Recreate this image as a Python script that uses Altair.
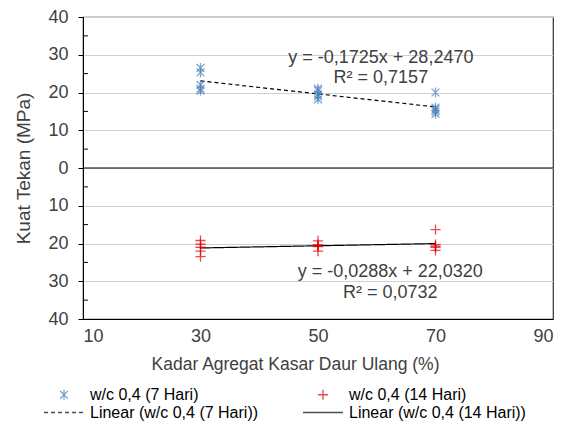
import altair as alt
import pandas as pd

# ---- data ----
S7 = "w/c 0,4 (7 Hari)"
S14 = "w/c 0,4 (14 Hari)"
L7 = "Linear (w/c 0,4 (7 Hari))"
L14 = "Linear (w/c 0,4 (14 Hari))"

kadar_7 = [30, 30, 30, 30, 30, 50, 50, 50, 50, 50, 70, 70, 70, 70, 70]
kuat_7 = [26.5, 25.3, 22.0, 21.0, 20.5, 21.0, 20.5, 19.5, 19.0, 18.2, 20.0, 16.0, 15.5, 15.0, 14.35]
kadar_14 = [30, 30, 30, 30, 30, 50, 50, 50, 50, 50, 70, 70, 70, 70, 70]
kuat_14 = [19.2, 20.2, 21.0, 22.0, 23.5, 19.3, 20.3, 20.6, 20.8, 22.0, 16.3, 20.3, 20.7, 21.0, 21.8]

y_ticks = [-40, -30, -20, -10, 0, 10, 20, 30, 40]
y_minor = [-35, -25, -15, -5, 5, 15, 25, 35]
x_ticks = [10, 30, 50, 70, 90]

ann_text = ["y = -0,1725x + 28,2470", "R² = 0,7157", "y = -0,0288x + 22,0320", "R² = 0,0732"]
ann_x = [60.7, 60.7, 62.3, 62.3]
ann_y = [29.1, 23.8, -27.5, -33.1]

BLUE = "#4a7ebb"
RED = "#e00000"
FONT = "Liberation Sans"
TXT = "#404040"

# symbol paths, drawn at size 289 (scale 8.5 px per unit)
ASTER = "M0,-0.58L0,0.58M-0.46,-0.46L0.46,0.46M-0.46,0.46L0.46,-0.46"
CROSS = "M-0.6,0L0.6,0M0,-0.6L0,0.6"
LINE = "M-2.35,0L2.35,0"

df = pd.DataFrame({
    "series": [S7] * len(kuat_7) + [S14] * len(kuat_14),
    "x": kadar_7 + kadar_14,
    "v": kuat_7 + kuat_14,
})

domain = [S7, L7, S14, L14]
color_scale = alt.Scale(domain=domain, range=[BLUE, "#000000", RED, "#000000"])
shape_scale = alt.Scale(domain=domain, range=[ASTER, LINE, CROSS, LINE])
dash_scale = alt.Scale(domain=domain, range=[[1, 0], [4, 3], [1, 0], [1, 0]])

legend = alt.Legend(title=None, orient="none", legendX=-28.5, legendY=368, columns=2,
                    columnPadding=41, rowPadding=0, symbolSize=289,
                    symbolStrokeWidth=1.3, labelFontSize=16, labelFont=FONT,
                    labelColor="#000000", labelOffset=16.5, symbolFillColor="transparent")

xs = alt.Scale(domain=[10, 90], nice=False, zero=False)
ys = alt.Scale(domain=[-40, 40], nice=False)

x_axis = alt.Axis(values=x_ticks, grid=False, ticks=False,
                  title="Kadar Agregat  Kasar Daur Ulang (%)", titlePadding=10, labelPadding=8,
                  titleX=212, titleFontSize=17.5, labelOverlap=False)
y_axis = alt.Axis(values=y_ticks, labelExpr="abs(datum.value)",
                  grid=True, title="Kuat Tekan (MPa)", tickSize=5, labelPadding=10,
                  titlePadding=14, titleFontSize=19, labelOverlap=False)

base = alt.Chart(df).transform_calculate(
    y=f"datum.series == '{S14}' ? -datum.v : datum.v"
)

points = base.mark_point(filled=False, size=289, strokeWidth=1.3).encode(
    x=alt.X("x:Q", scale=xs, axis=x_axis),
    y=alt.Y("y:Q", scale=ys, axis=y_axis),
    color=alt.Color("series:N", scale=color_scale, legend=legend),
    shape=alt.Shape("series:N", scale=shape_scale, legend=legend),
)

lines = base.transform_regression("x", "y", groupby=["series"]).transform_calculate(
    lab="'Linear (' + datum.series + ')'"
).mark_line(strokeWidth=1.2).encode(
    x=alt.X("x:Q", scale=xs, axis=x_axis),
    y=alt.Y("y:Q", scale=ys, axis=y_axis),
    color=alt.Color("lab:N", scale=color_scale, legend=legend),
    strokeDash=alt.StrokeDash("lab:N", scale=dash_scale, legend=legend),
)

zero = alt.Chart(pd.DataFrame({"y": [0]})).mark_rule(color="#000000", strokeWidth=1.2).encode(
    y=alt.Y("y:Q", scale=ys, axis=y_axis)
)

minor = alt.Chart(pd.DataFrame({"y": y_minor, "x0": [10] * 8, "x1": [10.85] * 8})).mark_rule(
    color="#000000").encode(
    y=alt.Y("y:Q", scale=ys, axis=y_axis), x=alt.X("x0:Q", scale=xs, axis=x_axis), x2="x1:Q"
)

ann = alt.Chart(pd.DataFrame({"t": ann_text, "x": ann_x, "y": ann_y})).mark_text(
    font=FONT, fontSize=18, color=TXT, align="center", baseline="middle"
).encode(x=alt.X("x:Q", scale=xs, axis=x_axis), y=alt.Y("y:Q", scale=ys, axis=y_axis), text="t:N")

chart = alt.layer(zero, minor, lines, points, ann).properties(
    width=470, height=302,
    autosize=alt.AutoSizeParams(type="none"),
    padding={"left": 75, "top": 9, "right": 7, "bottom": 107},
).configure_view(stroke="#303030", strokeWidth=1.2).configure_axis(
    labelFont=FONT, titleFont=FONT, labelFontSize=18, titleFontSize=17,
    labelColor=TXT, titleColor=TXT, titleFontWeight="normal",
    domainColor="#000000", tickColor="#000000", gridColor="#d0d0d0", gridWidth=1.2,
).configure_legend(labelLimit=400)

chart.save("out.html", embed_options={"renderer": "svg", "actions": False})
